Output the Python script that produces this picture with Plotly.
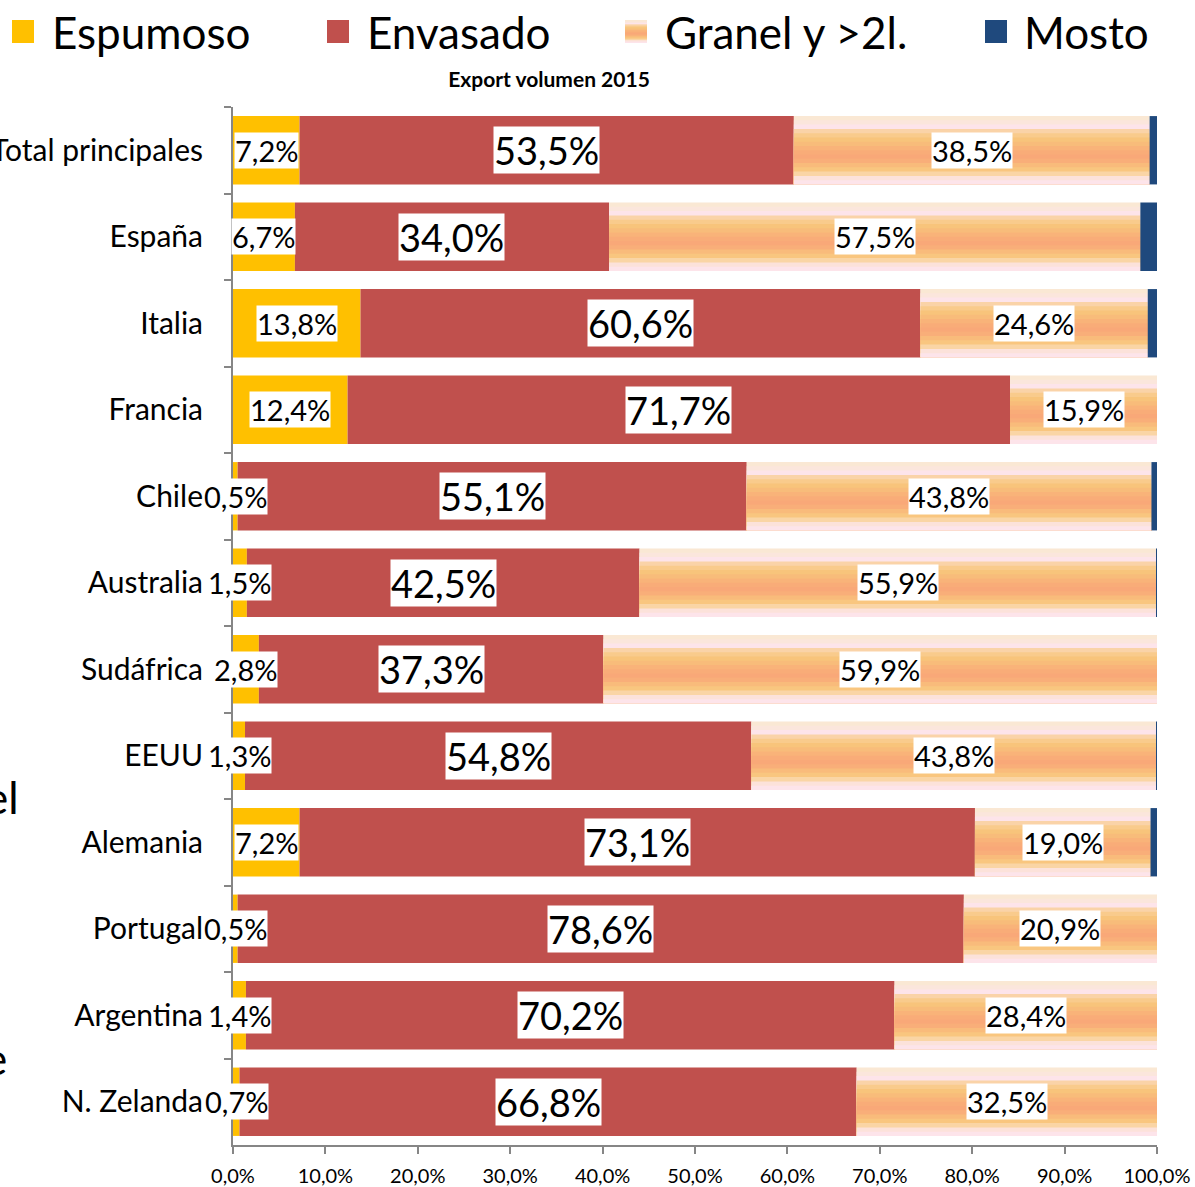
"""
Export volumen 2015 - 100% stacked horizontal bar chart
"""
import plotly.graph_objects as go

# ---- data -----------------------------------------------------------------
countries = ["Total principales", "España", "Italia", "Francia", "Chile", "Australia",
             "Sudáfrica", "EEUU", "Alemania", "Portugal", "Argentina", "N. Zelanda"]
espumoso = [7.2, 6.7, 13.8, 12.4, 0.5, 1.5, 2.8, 1.3, 7.2, 0.5, 1.4, 0.7]
envasado = [53.5, 34.0, 60.6, 71.7, 55.1, 42.5, 37.3, 54.8, 73.1, 78.6, 70.2, 66.8]
granel = [38.5, 57.5, 24.6, 15.9, 43.8, 55.9, 59.9, 43.8, 19.0, 20.9, 28.4, 32.5]
mosto = [0.8, 1.8, 1.0, 0.1, 0.6, 0.1, 0.1, 0.1, 0.7, 0.1, 0.1, 0.1]
series_names = ["Espumoso", "Envasado", "Granel y >2l.", "Mosto"]

# ---- styling --------------------------------------------------------------
FONT = "Lato, Carlito, sans-serif"
C_ESP = "#FFC000"
C_ENV = "#C0504D"
C_MOS = "#1F497D"
# vertical gradient of the "granel" fill, top to bottom
GRANEL_STRIPS = ["#FAE8D4", "#FBE6DC", "#FDE4EA", "#FAD3A8", "#F9CB8C", "#F8C47B",
                 "#F8BC7A", "#F9B379", "#F9AC78", "#F9A878", "#F9AE79", "#F9BB7B",
                 "#F9C67F", "#FAD5A5", "#FCE2DA", "#FDE4EA"]
AXIS_GREY = "#868686"
BAR_W = 0.79

W, H = 1195, 1187
M = dict(l=233, r=38, t=107, b=42)
PW = W - M["l"] - M["r"]
PH = H - M["t"] - M["b"]


def px_x(p):
    return (p - M["l"]) / PW


def px_y(q):
    return 1 - (q - M["t"]) / PH


def pct(v):
    return f"{v:.1f}%".replace(".", ",")


base_env = espumoso
base_gra = [a + b for a, b in zip(espumoso, envasado)]
base_mos = [a + b for a, b in zip(base_gra, granel)]

fig = go.Figure()

fig.add_trace(go.Bar(y=countries, x=espumoso, base=[0] * len(countries), orientation="h",
                     width=BAR_W, marker=dict(color=C_ESP, line_width=0),
                     name=series_names[0], showlegend=False))
fig.add_trace(go.Bar(y=countries, x=envasado, base=base_env, orientation="h",
                     width=BAR_W, marker=dict(color=C_ENV, line_width=0),
                     name=series_names[1], showlegend=False))

# granel drawn as overlapping horizontal strips to mimic the gradient fill;
# each strip runs from its own start to the bottom of the bar so no seams show
n = len(GRANEL_STRIPS)
sw = BAR_W / n
for i, c in enumerate(GRANEL_STRIPS):
    fig.add_trace(go.Bar(y=countries, x=granel, base=base_gra, orientation="h",
                         width=(n - i) * sw, offset=-BAR_W / 2 + i * sw,
                         marker=dict(color=c, line_width=0),
                         name=series_names[2], showlegend=False, hoverinfo="skip"))

fig.add_trace(go.Bar(y=countries, x=mosto, base=base_mos, orientation="h",
                     width=BAR_W, marker=dict(color=C_MOS, line_width=0),
                     name=series_names[3], showlegend=False))

# segment labels (white boxes like the original)
annotations = []
for i, c in enumerate(countries):
    for centre, val, size in [
        (espumoso[i] / 2, espumoso[i], 29),
        (base_env[i] + envasado[i] / 2, envasado[i], 38),
        (base_gra[i] + granel[i] / 2, granel[i], 29),
    ]:
        annotations.append(dict(x=centre, y=c, xref="x", yref="y", text=pct(val),
                                showarrow=False, bgcolor="white", borderpad=0,
                                font=dict(family=FONT, size=size, color="black")))

# custom legend across the top
legend_items = [(12, 50, C_ESP), (327, 365, C_ENV), (625, 663, None), (985, 1022, C_MOS)]
shapes = []
for (sq_x, tx_x, col), name in zip(legend_items, series_names):
    if col is not None:
        shapes.append(dict(type="rect", xref="paper", yref="paper",
                           x0=px_x(sq_x), x1=px_x(sq_x + 22), y0=px_y(43), y1=px_y(20),
                           fillcolor=col, line_width=0))
    else:
        step = 23 / n
        for k, gc in enumerate(GRANEL_STRIPS):
            shapes.append(dict(type="rect", xref="paper", yref="paper",
                               x0=px_x(sq_x), x1=px_x(sq_x + 22),
                               y0=px_y(43), y1=px_y(20 + k * step),
                               fillcolor=gc, line_width=0))
    annotations.append(dict(x=px_x(tx_x), y=px_y(32), xref="paper", yref="paper",
                            xanchor="left", yanchor="middle", text=name, showarrow=False,
                            font=dict(family=FONT, size=44, color="black")))

# cropped text fragments at the left edge of the slide
annotations.append(dict(x=px_x(21), y=px_y(797), xref="paper", yref="paper", xanchor="right",
                        yanchor="middle", text="el", showarrow=False,
                        font=dict(family=FONT, size=44, color="black")))
annotations.append(dict(x=px_x(9), y=px_y(1058), xref="paper", yref="paper", xanchor="right",
                        yanchor="middle", text="e", showarrow=False,
                        font=dict(family=FONT, size=44, color="black")))

fig.update_layout(
    template="none",
    width=W, height=H,
    margin=M,
    barmode="overlay",
    separators=",.",
    paper_bgcolor="white",
    plot_bgcolor="white",
    font=dict(family=FONT, color="black"),
    title=dict(text="<b>Export volumen 2015</b>", x=549 / W, xanchor="center",
               y=1 - 80 / H, yanchor="middle", font=dict(family=FONT, size=21, color="black")),
    showlegend=False,
    annotations=annotations,
    shapes=shapes,
)

fig.update_xaxes(range=[0, 100], dtick=10, tick0=0, tickformat=".1f", ticksuffix="%",
                 showgrid=False, zeroline=False, showline=True, linecolor=AXIS_GREY,
                 linewidth=2, ticks="outside", ticklen=7, tickcolor=AXIS_GREY, tickwidth=2,
                 ticklabelstandoff=5,
                 tickfont=dict(family=FONT, size=20, color="black"), automargin=False)
fig.update_yaxes(categoryorder="array", categoryarray=countries, autorange="reversed",
                 showgrid=False, zeroline=False, showline=True, linecolor=AXIS_GREY,
                 linewidth=2, ticks="outside", ticklen=7, tickcolor=AXIS_GREY, tickwidth=2,
                 tickson="boundaries", ticklabelstandoff=22,
                 tickfont=dict(family=FONT, size=30, color="black"), automargin=False)

# the page's default body margin would shift the chart by 8px
fig.write_html("out.html", config={"displayModeBar": False},
               post_script="document.body.style.margin='0';")
